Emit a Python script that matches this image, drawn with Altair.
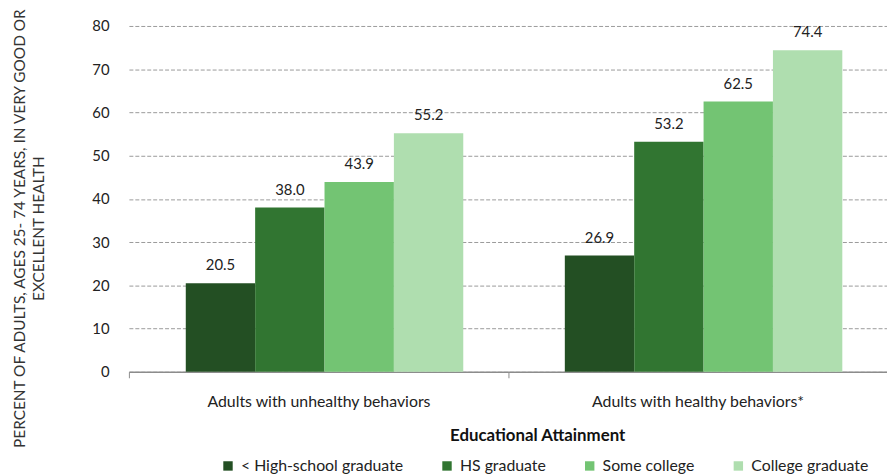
import altair as alt
import pandas as pd

groups = ["Adults with unhealthy behaviors", "Adults with healthy behaviors*"]
education = ["< High-school graduate", "HS graduate", "Some college", "College graduate"]
unhealthy = [20.5, 38.0, 43.9, 55.2]
healthy = [26.9, 53.2, 62.5, 74.4]
colors = ["#234f23", "#317531", "#73c473", "#afdeaf"]
y_ticks = [0, 10, 20, 30, 40, 50, 60, 70, 80]

rows = []
for g, vals in zip(groups, [unhealthy, healthy]):
    for e, v in zip(education, vals):
        rows.append({"group": g, "education": e, "value": v})
df = pd.DataFrame(rows)

FONT = "Lato"

x = alt.X(
    "group:N",
    sort=groups,
    scale=alt.Scale(paddingInner=0, paddingOuter=0),
    axis=alt.Axis(
        title="Educational Attainment",
        titleFont=FONT,
        titleFontSize=17,
        titleFontWeight="bold",
        titleColor="#111111",
        titleX=412,
        titleY=64,
        titleBaseline="middle",
        labelFont=FONT,
        labelFontSize=16,
        labelColor="#222222",
        labelAngle=0,
        labelPadding=16,
        labelLimit=400,
        domainColor="#8c8c8c",
        domainWidth=1.5,
        tickColor="#8c8c8c",
        tickSize=6,
        tickBand="extent",
        grid=False,
    ),
)

base = alt.Chart(df).encode(
    x=x,
    xOffset=alt.XOffset(
        "education:N",
        sort=education,
        scale=alt.Scale(paddingInner=0, paddingOuter=0.732, align=0.56),
    ),
    y=alt.Y(
        "value:Q",
        scale=alt.Scale(domain=[0, 80], nice=False),
        axis=alt.Axis(
            values=y_ticks,
            title=["PERCENT OF ADULTS, AGES 25- 74 YEARS, IN VERY GOOD OR", "EXCELLENT HEALTH"],
            titleFont=FONT,
            titleFontSize=15.5,
            titleFontWeight="normal",
            titleColor="#333333",
            titleAngle=-90,
            titleAlign="center",
            titleBaseline="top",
            titleX=-117,
            titleY=204,
            titleLineHeight=19,
            titleLimit=600,
            labelFont=FONT,
            labelFontSize=15,
            labelColor="#222222",
            labelPadding=20,
            ticks=False,
            domain=False,
            grid=True,
            gridColor="#9a9a9a",
            gridDash=[4, 2],
            gridWidth=1,
        ),
    ),
)

bars = base.mark_bar().encode(
    color=alt.Color(
        "education:N",
        sort=education,
        scale=alt.Scale(domain=education, range=colors),
        legend=alt.Legend(
            title=None,
            orient="none",
            direction="horizontal",
            legendX=92,
            legendY=436,
            symbolType="square",
            symbolSize=90,
            symbolStrokeWidth=0,
            labelFont=FONT,
            labelFontSize=16,
            labelColor="#222222",
            labelLimit=300,
            columnPadding=36,
            labelOffset=5,
        ),
    )
)

labels = base.mark_text(
    baseline="bottom", dy=-10, font=FONT, fontSize=15, color="#222222"
).encode(text=alt.Text("value:Q", format=".1f"))

chart = (
    alt.layer(bars, labels)
    .properties(
        width=765,
        height=349,
        autosize=alt.AutoSizeParams(type="none"),
        padding={"left": 122, "top": 16, "right": 0, "bottom": 102},
    )
    .configure_view(stroke=None)
)

chart.save("out.html", embed_options={"renderer": "svg", "actions": False})
